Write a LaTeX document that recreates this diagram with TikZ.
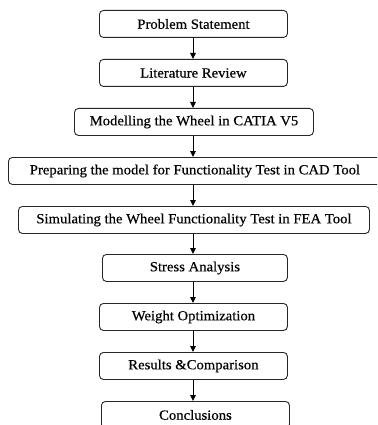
\documentclass[tikz,border=0pt]{standalone}
\usepackage{fontspec}
\setmainfont{Liberation Serif}[FakeStretch=1.05,FakeBold=0.4]
\usetikzlibrary{arrows.meta}
\begin{document}
\begin{tikzpicture}[x=1pt,y=-1pt,
  stepbox/.style={draw=black!85, line width=0.9pt, rounded corners=4pt, fill=white,
    minimum height=27pt, inner sep=0pt, font=\fontsize{14}{16}\selectfont, anchor=north west},
  arr/.style={line width=0.9pt, -{Triangle[length=6pt,width=5.5pt]}}]
\useasboundingbox (0,0) rectangle (377,425);
\clip (0,0) rectangle (377,425);
\fill[white] (0,0) rectangle (377,425);
\node[stepbox, minimum width=188pt] (b1) at (99,10) {Problem Statement};
\node[stepbox, minimum width=188pt] (b2) at (99,59) {Literature Review};
\node[stepbox, minimum width=239pt] (b3) at (74,108) {Modelling the Wheel in CATIA V5};
\node[stepbox, minimum width=373pt] (b4) at (8,157) {Preparing the model for Functionality Test in CAD Tool};
\node[stepbox, minimum width=351pt] (b5) at (18,206) {Simulating the Wheel Functionality Test in FEA Tool};
\node[stepbox, minimum width=185pt] (b6) at (102,254) {Stress Analysis};
\node[stepbox, minimum width=188pt] (b7) at (99,303) {Weight Optimization};
\node[stepbox, minimum width=188pt] (b8) at (99,352) {Results \&Comparison};
\node[stepbox, minimum width=188pt] (b9) at (101,401) {Conclusions};
\coordinate (ax) at (193,0);
\foreach \a/\b in {b1/b2,b2/b3,b3/b4,b4/b5,b5/b6,b6/b7,b7/b8,b8/b9}
  \draw[arr] (\a.south -| ax) -- (\b.north -| ax);
\end{tikzpicture}
\end{document}
